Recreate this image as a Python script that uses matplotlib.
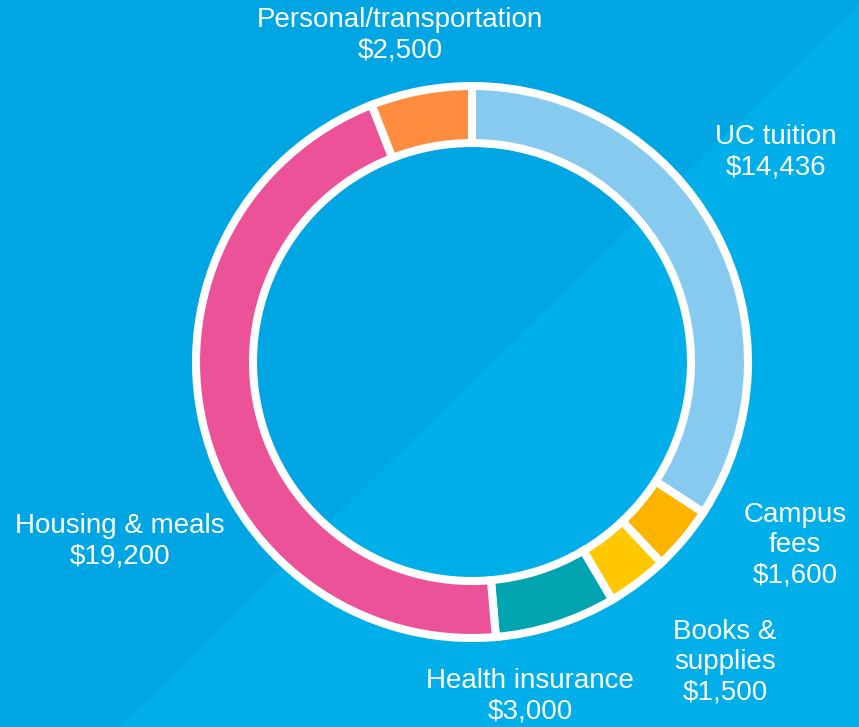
import matplotlib.pyplot as plt
from matplotlib.patches import Polygon

labels = ["UC tuition", "Campus\nfees", "Books &\nsupplies", "Health insurance",
          "Housing & meals", "Personal/transportation"]
values = [14436, 1600, 1500, 3000, 19200, 2500]
colors = ["#86CBEF", "#FDB400", "#FFC800", "#00A3B0", "#EC5298", "#FF8C3F"]
label_pos = [(776, 152), (795, 545), (725, 662), (530, 696), (120, 541), (400, 35)]

W, H = 859, 727
fig = plt.figure(figsize=(W / 100, H / 100), dpi=100)
ax = fig.add_axes([0, 0, 1, 1])
ax.set_xlim(0, W)
ax.set_ylim(0, H)
ax.axis("off")

# two-tone background split on the diagonal
ax.add_patch(Polygon([(0, 0), (0, H), (W, H), (120, 0)], closed=True,
                     color="#00A6E3", zorder=0))
ax.add_patch(Polygon([(120, 0), (W, H - 5), (W, 0)], closed=True, color="#00AEEA", zorder=0))

ax.pie(values, colors=colors, startangle=90, counterclock=False,
       center=(472, 365), radius=276,
       wedgeprops=dict(width=57, edgecolor="white", linewidth=5.8))
ax.set_xlim(0, W)
ax.set_ylim(0, H)

for (lab, v, (x, y)) in zip(labels, values, label_pos):
    ax.text(x, H - y, f"{lab}\n${v:,}", ha="center", va="center", multialignment="center",
            color="white", fontsize=20, family="Liberation Sans", linespacing=1.22)

fig.savefig("out.png", dpi=100, facecolor="#00A6E3")
